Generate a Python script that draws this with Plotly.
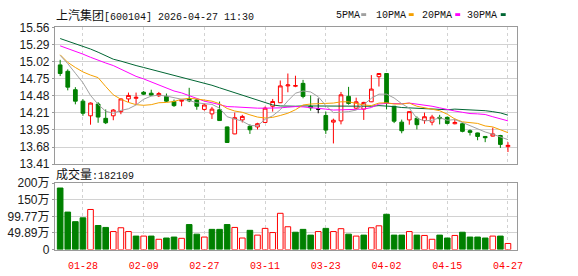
import plotly.graph_objects as go

# ---------------- data ----------------
dates = ["01-23", "01-26", "01-27", "01-28", "01-29", "01-30", "02-02", "02-03", "02-04", "02-05",
         "02-06", "02-09", "02-10", "02-11", "02-12", "02-13", "02-24", "02-25", "02-26", "02-27",
         "03-02", "03-03", "03-04", "03-05", "03-06", "03-09", "03-10", "03-11", "03-12", "03-13",
         "03-16", "03-17", "03-18", "03-19", "03-20", "03-23", "03-24", "03-25", "03-26", "03-27",
         "03-30", "03-31", "04-01", "04-02", "04-03", "04-07", "04-08", "04-09", "04-10", "04-13",
         "04-14", "04-15", "04-16", "04-17", "04-20", "04-21", "04-22", "04-23", "04-24", "04-27"]

opens = [14.97, 14.87, 14.58, 14.40, 14.17, 14.355, 14.13, 14.17, 14.235, 14.435,
         14.445, 14.54, 14.525, 14.485, 14.475, 14.395, 14.40, 14.44, 14.42, 14.27,
         14.20, 14.265, 13.995, 13.885, 14.105, 14.005, 13.995, 14.065, 14.32, 14.375,
         14.64, 14.635, 14.68, 14.32, 14.275, 14.175, 14.07, 14.09, 14.475, 14.29,
         14.275, 14.39, 14.785, 14.835, 14.32, 14.07, 14.105, 14.13, 14.095, 14.07,
         14.145, 14.145, 14.045, 14.045, 13.935, 13.90, 13.845, 13.85, 13.86, 13.685]
highs = [15.05, 14.90, 14.62, 14.43, 14.38, 14.385, 14.27, 14.275, 14.445, 14.535,
         14.535, 14.56, 14.58, 14.545, 14.52, 14.425, 14.42, 14.61, 14.435, 14.365,
         14.31, 14.395, 14.0, 14.22, 14.185, 14.035, 14.06, 14.315, 14.435, 14.725,
         14.835, 14.80, 14.735, 14.49, 14.445, 14.235, 14.125, 14.545, 14.625, 14.455,
         14.39, 14.81, 14.84, 14.84, 14.325, 14.11, 14.24, 14.16, 14.22, 14.185,
         14.185, 14.16, 14.125, 14.06, 13.955, 13.905, 13.85, 13.985, 13.87, 13.755]
lows = [14.795, 14.57, 14.35, 14.17, 14.03, 14.06, 14.04, 14.10, 14.195, 14.385,
        14.34, 14.495, 14.48, 14.465, 14.385, 14.31, 14.32, 14.385, 14.265, 14.25,
        14.12, 14.09, 13.745, 13.88, 14.065, 13.885, 13.955, 14.06, 14.235, 14.37,
        14.54, 14.62, 14.445, 14.25, 14.21, 13.885, 13.735, 14.035, 14.345, 14.275,
        14.105, 14.385, 14.63, 14.27, 14.055, 13.895, 14.03, 13.955, 14.045, 14.02,
        14.035, 14.035, 14.035, 13.91, 13.86, 13.785, 13.755, 13.845, 13.665, 13.60]
closes = [14.835, 14.62, 14.40, 14.21, 14.37, 14.15, 14.06, 14.26, 14.435, 14.49,
          14.46, 14.51, 14.495, 14.52, 14.40, 14.33, 14.415, 14.405, 14.32, 14.34,
          14.275, 14.095, 13.75, 14.14, 14.16, 13.95, 14.045, 14.29, 14.395, 14.64,
          14.655, 14.645, 14.475, 14.295, 14.275, 13.945, 14.10, 14.50, 14.365, 14.39,
          14.38, 14.59, 14.835, 14.365, 14.085, 13.935, 14.235, 14.03, 14.155, 14.15,
          14.125, 14.05, 14.065, 13.925, 13.91, 13.845, 13.825, 13.885, 13.72, 13.705]

ma5 = [15.12, 14.99, 14.84, 14.69, 14.49, 14.35, 14.24, 14.21, 14.255, 14.28,
       14.34, 14.43, 14.48, 14.495, 14.48, 14.45, 14.43, 14.41, 14.375, 14.36,
       14.35, 14.29, 14.155, 14.12, 14.085, 14.02, 14.01, 14.115, 14.17, 14.265,
       14.405, 14.525, 14.56, 14.545, 14.47, 14.33, 14.22, 14.225, 14.235, 14.26,
       14.345, 14.445, 14.51, 14.51, 14.45, 14.36, 14.29, 14.13, 14.09, 14.10,
       14.14, 14.10, 14.11, 14.065, 14.015, 13.96, 13.915, 13.88, 13.835, 13.795]
ma10 = [15.13, 15.01, 14.93, 14.86, 14.81, 14.77, 14.63, 14.50, 14.43, 14.38,
        14.345, 14.335, 14.345, 14.375, 14.38, 14.395, 14.43, 14.445, 14.435, 14.42,
        14.40, 14.36, 14.285, 14.245, 14.225, 14.185, 14.15, 14.135, 14.145, 14.175,
        14.21, 14.265, 14.34, 14.355, 14.365, 14.365, 14.37, 14.39, 14.39, 14.365,
        14.34, 14.33, 14.37, 14.375, 14.355, 14.355, 14.37, 14.32, 14.30, 14.275,
        14.25, 14.195, 14.12, 14.075, 14.06, 14.05, 14.01, 13.995, 13.95, 13.905]
ma20 = [15.27, 15.23, 15.18, 15.14, 15.09, 15.04, 15.00, 14.96, 14.90, 14.85,
        14.79, 14.75, 14.70, 14.65, 14.61, 14.56, 14.53, 14.49, 14.44, 14.40,
        14.375, 14.345, 14.315, 14.31, 14.30, 14.29, 14.29, 14.29, 14.29, 14.295,
        14.305, 14.315, 14.31, 14.30, 14.295, 14.275, 14.26, 14.265, 14.265, 14.27,
        14.275, 14.30, 14.355, 14.365, 14.36, 14.36, 14.37, 14.355, 14.345, 14.32,
        14.295, 14.265, 14.245, 14.225, 14.205, 14.20, 14.19, 14.155, 14.125, 14.09]
ma30 = [15.385, 15.345, 15.31, 15.27, 15.22, 15.17, 15.11, 15.06, 15.03, 14.99,
        14.96, 14.93, 14.90, 14.87, 14.83, 14.80, 14.77, 14.74, 14.71, 14.68,
        14.65, 14.61, 14.57, 14.53, 14.49, 14.45, 14.41, 14.37, 14.34, 14.325,
        14.32, 14.32, 14.325, 14.325, 14.325, 14.315, 14.315, 14.325, 14.325, 14.32,
        14.315, 14.32, 14.33, 14.325, 14.315, 14.30, 14.295, 14.285, 14.28, 14.27,
        14.265, 14.265, 14.275, 14.27, 14.26, 14.255, 14.25, 14.235, 14.215, 14.18]

# volume in 万
volumes = [184.7, 112.5, 83.7, 95.2, 120.3, 72.2, 66.4, 54, 65.4, 54,
           40.4, 40.4, 40.4, 30.8, 34.6, 37.5, 33.7, 75, 46.2, 37.5,
           60.6, 60.6, 75, 66.4, 34.6, 57.7, 43.3, 63.5, 51, 108.8,
           68.4, 52, 60.6, 43.3, 54, 63.5, 54, 62.6, 46.2, 40.4,
           43.3, 65.4, 71.3, 105.9, 43.3, 43.3, 54, 43.3, 42.3, 30.8,
           43.3, 34.6, 42.3, 52, 37.5, 37.5, 34.6, 40.4, 40.4, 18.21]
# volume bar direction: r = red (up), g = green (down)
vol_dir = ["g", "g", "g", "g", "r", "g", "g", "r", "r", "r",
           "g", "r", "g", "r", "g", "g", "r", "g", "g", "r",
           "g", "g", "g", "r", "r", "g", "r", "r", "r", "r",
           "r", "g", "g", "g", "r", "g", "r", "r", "g", "r",
           "g", "r", "r", "g", "g", "g", "r", "g", "r", "r",
           "g", "g", "r", "g", "g", "g", "g", "r", "g", "r"]

price_tick_labels = ["13.41", "13.68", "13.95", "14.21", "14.48", "14.75", "15.02", "15.29", "15.56"]
price_min, price_max = 13.41, 15.56
vol_tick_labels = ["0", "49.89万", "99.77万", "150万", "200万"]
vol_max = 199.54
label_every = 8
label_start = 3

title_text = "上汽集团[600104] 2026-04-27 11:30"
vol_title = "成交量:182109"
ma_names = ["5PMA", "10PMA", "20PMA", "30PMA"]

# ---------------- styling ----------------
RED = "#ff0000"
GREEN = "#008000"
MA_COLORS = ["#a0a0a0", "#f5a000", "#ff00ff", "#006633"]
BORDER = "#9a9a9a"
GRID = "#d2d2d2"
W, H = 578, 276

n = len(dates)
xs = list(range(n))
x_range = [-0.69, 60.2]

fig = go.Figure()

doji = [opens[i] == closes[i] for i in range(n)]
def pick(arr, cond):
    return [arr[i] if cond(i) else None for i in range(n)]

fig.add_trace(go.Candlestick(
    x=xs,
    open=pick(opens, lambda i: not doji[i]),
    high=pick(highs, lambda i: not doji[i]),
    low=pick(lows, lambda i: not doji[i]),
    close=pick(closes, lambda i: not doji[i]),
    increasing=dict(line=dict(color=RED, width=1), fillcolor="#ffffff"),
    decreasing=dict(line=dict(color=GREEN, width=1), fillcolor=GREEN),
    whiskerwidth=0, xaxis="x", yaxis="y", hoverinfo="skip", showlegend=False,
))
fig.add_trace(go.Candlestick(
    x=xs,
    open=pick(opens, lambda i: doji[i]),
    high=pick(highs, lambda i: doji[i]),
    low=pick(lows, lambda i: doji[i]),
    close=pick(closes, lambda i: doji[i]),
    increasing=dict(line=dict(color="#000000", width=1), fillcolor="#000000"),
    decreasing=dict(line=dict(color="#000000", width=1), fillcolor="#000000"),
    whiskerwidth=0, xaxis="x", yaxis="y", hoverinfo="skip", showlegend=False,
))

for vals, col in zip([ma30, ma20, ma10, ma5], MA_COLORS[::-1]):
    fig.add_trace(go.Scatter(x=xs, y=vals, mode="lines", line=dict(color=col, width=1),
                             xaxis="x", yaxis="y", hoverinfo="skip", showlegend=False))

fill_cols = ["#ffffff" if d == "r" else GREEN for d in vol_dir]
line_cols = [RED if d == "r" else GREEN for d in vol_dir]
fig.add_trace(go.Bar(x=xs, y=volumes, width=0.74,
                     marker=dict(color=fill_cols, line=dict(color=line_cols, width=1)),
                     xaxis="x2", yaxis="y2", hoverinfo="skip", showlegend=False))

px_left, px_right = 55.5, 522.5
price_top, price_bot = 21.5, 165.5
vol_top, vol_bot = 185.5, 255.5
xdom = [px_left / W, px_right / W]
tickvals_x = xs[label_start::label_every]
ticktext_x = dates[label_start::label_every]

price_step = (price_max - price_min) / (len(price_tick_labels) - 1)
price_tickvals = [price_min + k * price_step for k in range(len(price_tick_labels))]
vol_tickvals = [k * vol_max / (len(vol_tick_labels) - 1) for k in range(len(vol_tick_labels))]

common_x = dict(range=x_range, domain=xdom, showline=True, mirror=True, linecolor=BORDER,
                linewidth=1, tickmode="array", tickvals=tickvals_x, showgrid=True,
                gridcolor=GRID, griddash="3px,3px", gridwidth=1, zeroline=False,
                rangeslider=dict(visible=False), fixedrange=True)

fig.update_layout(
    width=W, height=H, margin=dict(l=0, r=0, t=0, b=0),
    paper_bgcolor="#ffffff", plot_bgcolor="#ffffff",
    xaxis=dict(common_x, anchor="y", showticklabels=False, ticks=""),
    xaxis2=dict(common_x, anchor="y2", ticktext=ticktext_x, showticklabels=True, ticks="",
                ticklabelstandoff=6,
                tickfont=dict(family="Liberation Mono", size=10, color=RED)),
    yaxis=dict(domain=[1 - price_bot / H, 1 - price_top / H], range=[price_min, price_max],
               tickmode="array", tickvals=price_tickvals, ticktext=price_tick_labels,
               showline=True, mirror=True, linecolor=BORDER, linewidth=1,
               ticks="outside", ticklen=2, tickcolor=BORDER, ticklabelstandoff=0,
               showgrid=True, gridcolor=GRID, zeroline=False, fixedrange=True,
               tickfont=dict(family="Liberation Sans", size=12, color="#1a1a1a")),
    yaxis2=dict(domain=[1 - vol_bot / H, 1 - vol_top / H], range=[0, vol_max],
                tickmode="array", tickvals=vol_tickvals, ticktext=vol_tick_labels,
                showline=True, mirror=True, linecolor=BORDER, linewidth=1,
                ticks="outside", ticklen=2, tickcolor=BORDER, ticklabelstandoff=0,
                showgrid=True, gridcolor=GRID, zeroline=False, fixedrange=True,
                tickfont=dict(family="Liberation Sans, Noto Sans CJK SC", size=12, color="#1a1a1a")),
    showlegend=False,
)

def cjk_mix(s, size):
    out, buf, cjk = "", "", None
    for ch in s:
        is_cjk = ord(ch) > 0x2E80
        if cjk is None or is_cjk == cjk:
            buf += ch
        else:
            out += (f"<span style='font-size:{size}px'>{buf}</span>" if cjk else buf)
            buf = ch
        cjk = is_cjk
    out += (f"<span style='font-size:{size}px'>{buf}</span>" if cjk else buf)
    return out

annos = []
annos.append(dict(text=cjk_mix(title_text, 12), x=55 / W, y=1 - 9 / H, xref="paper", yref="paper",
                  xanchor="left", yanchor="middle", showarrow=False,
                  font=dict(family="Liberation Mono, Noto Sans CJK SC", size=10, color="#111111")))
annos.append(dict(text=cjk_mix(vol_title, 12), x=55 / W, y=1 - 177 / H, xref="paper", yref="paper",
                  xanchor="left", yanchor="middle", showarrow=False,
                  font=dict(family="Liberation Mono, Noto Sans CJK SC", size=10, color="#111111")))

legend_x = [337, 378, 424, 470]
square_x = [365, 413, 460, 506]
shapes = []
for name, lx, sx, col in zip(ma_names, legend_x, square_x, MA_COLORS):
    annos.append(dict(text=name, x=lx / W, y=1 - 9 / H, xref="paper", yref="paper",
                      xanchor="left", yanchor="middle", showarrow=False,
                      font=dict(family="Liberation Mono", size=10, color="#111111")))
    shapes.append(dict(type="rect", xref="paper", yref="paper", x0=sx / W, x1=(sx + 5) / W,
                       y0=1 - 9.5 / H, y1=1 - 6.5 / H, fillcolor=col, line=dict(width=0)))

fig.update_layout(annotations=annos, shapes=shapes)

fig.write_html("out.html")
